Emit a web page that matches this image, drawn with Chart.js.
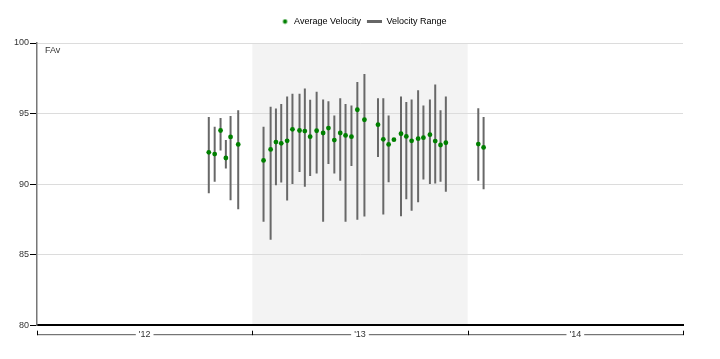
<!DOCTYPE html>
<html>
<head>
<meta charset="utf-8">
<script src="https://cdn.jsdelivr.net/npm/chart.js@4.4.1/dist/chart.umd.min.js"></script>
<style>
  html, body { margin: 0; padding: 0; background: #fff; }
  #wrap { width: 720px; height: 359px; }
</style>
</head>
<body>
<div id="wrap"><canvas id="chart" width="720" height="359"></canvas></div>
<script>
// ======================== DADOS ========================
const gameDates = [
    '2012-10-19', '2012-10-29', '2012-11-08', '2012-11-17', '2012-11-25', '2012-12-08',
    '2013-01-20', '2013-02-01', '2013-02-10', '2013-02-19', '2013-03-01', '2013-03-10',
    '2013-03-22', '2013-03-31', '2013-04-09', '2013-04-20', '2013-05-01', '2013-05-10',
    '2013-05-20', '2013-05-30', '2013-06-08', '2013-06-18', '2013-06-28', '2013-07-10',
    '2013-08-02', '2013-08-11', '2013-08-20', '2013-08-29', '2013-09-10', '2013-09-19',
    '2013-09-28', '2013-10-09', '2013-10-18', '2013-10-29', '2013-11-07', '2013-11-16',
    '2013-11-25', '2014-01-19', '2014-01-28',
];
const avgVelocity = [
    92.25, 92.13, 93.80, 91.85, 93.34, 92.81,
    91.68, 92.46, 92.98, 92.89, 93.07, 93.88,
    93.80, 93.76, 93.36, 93.78, 93.62, 93.97,
    93.12, 93.62, 93.45, 93.36, 95.27, 94.56,
    94.21, 93.17, 92.81, 93.15, 93.57, 93.38,
    93.07, 93.22, 93.29, 93.50, 93.05, 92.77,
    92.93, 92.84, 92.60,
];
const minVelocity = [
    89.35, 90.16, 92.39, 91.10, 88.86, 88.22,
    87.33, 86.06, 89.92, 90.11, 88.83, 90.01,
    90.86, 89.82, 90.58, 90.76, 87.33, 91.43,
    90.76, 90.23, 87.33, 91.29, 87.47, 87.70,
    91.92, 87.85, 90.13, null, 87.73, 88.93,
    88.11, 88.72, 90.32, 90.01, 90.04, 90.16,
    89.45, 90.23, 89.63,
];
const maxVelocity = [
    94.75, 94.06, 94.68, 93.12, 94.82, 95.24,
    94.06, 95.48, 95.36, 95.67, 96.21, 96.40,
    96.40, 96.77, 95.97, 96.54, 96.00, 95.88,
    94.86, 96.09, 95.67, 95.57, 97.24, 97.81,
    96.09, 96.09, 94.86, null, 96.21, 95.81,
    96.00, 96.66, 95.57, 96.00, 97.05, 95.24,
    96.21, 95.38, 94.75,
];
const years = [2012, 2013, 2014];
const yearLabels = ["'12", "'13", "'14"];
const shadedYear = 2013;

// data -> ano fracionário
function anoFracionario(str) {
    const [a, m, d] = str.split('-').map(Number);
    const ini = Date.UTC(a, 0, 1);
    const fim = Date.UTC(a + 1, 0, 1);
    return a + (Date.UTC(a, m - 1, d) - ini) / (fim - ini);
}
const xs = gameDates.map(anoFracionario);

// ======================== ÍCONES DA LEGENDA ========================
function iconeCanvas(w, h, desenha) {
    const c = document.createElement('canvas');
    c.width = w;
    c.height = h;
    desenha(c.getContext('2d'));
    return c;
}
// ponto deslocado para a direita, perto do texto
const iconePonto = iconeCanvas(16, 6, (ctx) => {
    ctx.fillStyle = '#008000';
    ctx.beginPath();
    ctx.arc(11.5, 3, 2.2, 0, Math.PI * 2);
    ctx.fill();
});
const iconeLinha = iconeCanvas(16, 3, (ctx) => {
    ctx.fillStyle = '#666';
    ctx.fillRect(1, 0, 15, 3);
});

// ======================== PLUGINS ========================
const faixaAno = {
    id: 'faixaAno',
    beforeDraw(chart) {
        const { ctx, chartArea, scales } = chart;
        const x1 = scales.x.getPixelForValue(shadedYear);
        const x2 = scales.x.getPixelForValue(shadedYear + 1);
        ctx.save();
        ctx.fillStyle = '#f3f3f3';
        ctx.fillRect(x1, chartArea.top, x2 - x1, chartArea.bottom - chartArea.top);
        ctx.restore();
    },
};

const colcheteAnos = {
    id: 'colcheteAnos',
    afterDraw(chart) {
        const { ctx, chartArea, scales } = chart;
        const y = chartArea.bottom + 9.5;
        ctx.save();
        ctx.strokeStyle = '#555';
        ctx.lineWidth = 1;
        ctx.font = "9px 'Liberation Sans', Arial, sans-serif";
        years.forEach((ano, i) => {
            const xa = scales.x.getPixelForValue(ano);
            const xb = scales.x.getPixelForValue(ano + 1);
            const meio = (xa + xb) / 2;
            const meia = ctx.measureText(yearLabels[i]).width / 2 + 3;
            ctx.beginPath();
            ctx.moveTo(xa, y);
            ctx.lineTo(meio - meia, y);
            ctx.moveTo(meio + meia, y);
            ctx.lineTo(xb, y);
            ctx.stroke();
        });
        // marcas verticais nas viradas de ano
        ctx.strokeStyle = '#000';
        [...years, years[years.length - 1] + 1].forEach((ano) => {
            const xp = Math.round(scales.x.getPixelForValue(ano)) + 0.5;
            ctx.beginPath();
            ctx.moveTo(xp, y - 4);
            ctx.lineTo(xp, y + 0.5);
            ctx.stroke();
        });
        // título do eixo y
        ctx.fillStyle = '#333';
        ctx.textBaseline = 'middle';
        ctx.fillText('FAv', chartArea.left + 8, chartArea.top + 8);
        ctx.restore();
    },
};

// ======================== GRÁFICO ========================
Chart.defaults.font.family = "'Liberation Sans', Arial, sans-serif";
Chart.defaults.font.size = 9;
Chart.defaults.color = '#333';

const eixoVazio = {
    type: 'linear',
    display: true,
    ticks: { display: false },
    grid: { display: false, drawTicks: false },
    border: { display: false },
};

new Chart(document.getElementById('chart'), {
    type: 'bar',
    data: {
        datasets: [
            {
                type: 'line',
                label: 'Average Velocity',
                data: xs.map((x, i) => ({ x, y: avgVelocity[i] })),
                showLine: false,
                pointStyle: 'circle',
                pointRadius: 2.4,
                pointBorderWidth: 0,
                pointBackgroundColor: '#008000',
                borderColor: '#008000',
                order: 0,
            },
            {
                label: 'Velocity Range',
                data: xs.map((x, i) => ({
                    x,
                    y: minVelocity[i] == null ? null : [minVelocity[i], maxVelocity[i]],
                })),
                backgroundColor: '#686868',
                barThickness: 2,
                borderWidth: 0,
                inflateAmount: 0,
                order: 1,
            },
        ],
    },
    options: {
        responsive: false,
        animation: false,
        layout: { padding: { top: 12, right: 0, bottom: 15, left: 0 } },
        plugins: {
            tooltip: { enabled: false },
            legend: {
                position: 'top',
                labels: {
                    usePointStyle: true,
                    pointStyleWidth: 16,
                    padding: 5,
                    color: '#333',
                    generateLabels: (chart) =>
                        chart.data.datasets.map((ds, i) => ({
                            text: ds.label,
                            pointStyle: i === 0 ? iconePonto : iconeLinha,
                            fillStyle: 'transparent',
                            strokeStyle: 'transparent',
                            lineWidth: 0,
                            hidden: false,
                            datasetIndex: i,
                        })),
                },
            },
        },
        scales: {
            x: {
                type: 'linear',
                min: years[0],
                max: years[years.length - 1] + 1,
                offset: false,
                grid: { display: false, offset: false, drawTicks: false, tickLength: 0 },
                border: { display: true, color: '#000', width: 2 },
                afterBuildTicks: (scale) => {
                    scale.ticks = years.map((a) => ({ value: a + 0.5 }));
                },
                ticks: {
                    padding: 4,
                    maxRotation: 0,
                    autoSkip: false,
                    callback: (v) => yearLabels[years.indexOf(v - 0.5)],
                },
            },
            // espaço entre legenda e gráfico
            xTopo: {
                ...eixoVazio,
                position: 'top',
                afterFit: (scale) => {
                    scale.height = 7;
                },
            },
            y: {
                min: 80,
                max: 100,
                afterFit: (scale) => {
                    scale.width = 37;
                },
                ticks: { stepSize: 5, padding: 1, color: '#333' },
                grid: { color: '#dcdcdc', lineWidth: 1, tickLength: 7, tickColor: '#000' },
                border: { display: true, color: '#777', width: 1.5 },
            },
            // margem direita
            yDireita: {
                ...eixoVazio,
                position: 'right',
                afterFit: (scale) => {
                    scale.width = 37;
                },
            },
        },
    },
    plugins: [faixaAno, colcheteAnos],
});
</script>
</body>
</html>
